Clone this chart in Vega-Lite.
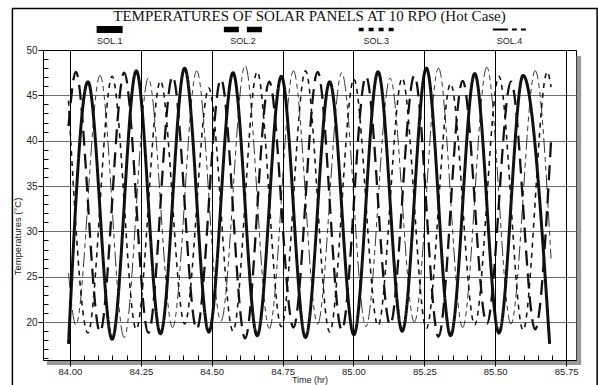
{
  "$schema": "https://vega.github.io/schema/vega-lite/v6.json",
  "width": 533,
  "height": 310,
  "autosize": {"type": "none"},
  "padding": {"left": 43, "top": 50, "right": 22, "bottom": 25},
  "background": "white",
  "title": {
    "text": "TEMPERATURES OF SOLAR PANELS AT 10 RPO (Hot Case)",
    "font": "Liberation Serif",
    "fontSize": 15,
    "fontWeight": "normal",
    "color": "#111111",
    "offset": -16,
    "anchor": "middle",
    "frame": "group"
  },
  "config": {
    "view": {"stroke": "black", "strokeWidth": 1},
    "axis": {"domainColor": "black", "tickColor": "black"}
  },
  "datasets": {
    "legend": [
      {"series": "SOL.1"}, {"series": "SOL.2"}, {"series": "SOL.3"}, {"series": "SOL.4"}
    ],
    "temps": [
      {"series": "SOL.1", "t": 83.995, "v": 17.6},
      {"series": "SOL.1", "t": 84.0635, "v": 46.5},
      {"series": "SOL.1", "t": 84.1488, "v": 18.1},
      {"series": "SOL.1", "t": 84.234, "v": 47.7},
      {"series": "SOL.1", "t": 84.3193, "v": 18.7},
      {"series": "SOL.1", "t": 84.4046, "v": 48.0},
      {"series": "SOL.1", "t": 84.4899, "v": 18.9},
      {"series": "SOL.1", "t": 84.5751, "v": 47.5},
      {"series": "SOL.1", "t": 84.6604, "v": 18.5},
      {"series": "SOL.1", "t": 84.7457, "v": 47.1},
      {"series": "SOL.1", "t": 84.8309, "v": 18.3},
      {"series": "SOL.1", "t": 84.9162, "v": 46.5},
      {"series": "SOL.1", "t": 85.0015, "v": 18.6},
      {"series": "SOL.1", "t": 85.0867, "v": 47.6},
      {"series": "SOL.1", "t": 85.172, "v": 19.0},
      {"series": "SOL.1", "t": 85.2573, "v": 48.0},
      {"series": "SOL.1", "t": 85.3426, "v": 18.5},
      {"series": "SOL.1", "t": 85.4278, "v": 47.4},
      {"series": "SOL.1", "t": 85.5131, "v": 18.8},
      {"series": "SOL.1", "t": 85.5984, "v": 47.2},
      {"series": "SOL.1", "t": 85.692, "v": 17.6},

      {"series": "SOL.2", "t": 83.995, "v": 41.6},
      {"series": "SOL.2", "t": 84.0209, "v": 47.6},
      {"series": "SOL.2", "t": 84.1061, "v": 18.9},
      {"series": "SOL.2", "t": 84.1914, "v": 47.5},
      {"series": "SOL.2", "t": 84.2767, "v": 18.8},
      {"series": "SOL.2", "t": 84.362, "v": 47.1},
      {"series": "SOL.2", "t": 84.4472, "v": 19.2},
      {"series": "SOL.2", "t": 84.5325, "v": 46.8},
      {"series": "SOL.2", "t": 84.6178, "v": 18.2},
      {"series": "SOL.2", "t": 84.703, "v": 46.5},
      {"series": "SOL.2", "t": 84.7883, "v": 19.4},
      {"series": "SOL.2", "t": 84.8736, "v": 47.6},
      {"series": "SOL.2", "t": 84.9588, "v": 19.1},
      {"series": "SOL.2", "t": 85.0441, "v": 47.1},
      {"series": "SOL.2", "t": 85.1294, "v": 19.7},
      {"series": "SOL.2", "t": 85.2147, "v": 47.2},
      {"series": "SOL.2", "t": 85.2999, "v": 18.4},
      {"series": "SOL.2", "t": 85.3852, "v": 46.6},
      {"series": "SOL.2", "t": 85.4705, "v": 19.8},
      {"series": "SOL.2", "t": 85.5557, "v": 46.5},
      {"series": "SOL.2", "t": 85.641, "v": 19.2},
      {"series": "SOL.2", "t": 85.697, "v": 40.0},

      {"series": "SOL.3", "t": 83.995, "v": 44.4},
      {"series": "SOL.3", "t": 84.0635, "v": 18.8},
      {"series": "SOL.3", "t": 84.1488, "v": 47.1},
      {"series": "SOL.3", "t": 84.234, "v": 19.2},
      {"series": "SOL.3", "t": 84.3193, "v": 46.6},
      {"series": "SOL.3", "t": 84.4046, "v": 19.8},
      {"series": "SOL.3", "t": 84.4899, "v": 45.8},
      {"series": "SOL.3", "t": 84.5751, "v": 19.0},
      {"series": "SOL.3", "t": 84.6604, "v": 47.6},
      {"series": "SOL.3", "t": 84.7457, "v": 19.5},
      {"series": "SOL.3", "t": 84.8309, "v": 47.7},
      {"series": "SOL.3", "t": 84.9162, "v": 18.9},
      {"series": "SOL.3", "t": 85.0015, "v": 46.8},
      {"series": "SOL.3", "t": 85.0867, "v": 19.6},
      {"series": "SOL.3", "t": 85.172, "v": 46.9},
      {"series": "SOL.3", "t": 85.2573, "v": 19.3},
      {"series": "SOL.3", "t": 85.3426, "v": 46.3},
      {"series": "SOL.3", "t": 85.4278, "v": 19.7},
      {"series": "SOL.3", "t": 85.5131, "v": 47.1},
      {"series": "SOL.3", "t": 85.5984, "v": 19.1},
      {"series": "SOL.3", "t": 85.6836, "v": 47.6},
      {"series": "SOL.3", "t": 85.697, "v": 45.9},

      {"series": "SOL.4", "t": 83.995, "v": 25.4},
      {"series": "SOL.4", "t": 84.0209, "v": 19.7},
      {"series": "SOL.4", "t": 84.1061, "v": 47.2},
      {"series": "SOL.4", "t": 84.1914, "v": 18.3},
      {"series": "SOL.4", "t": 84.2767, "v": 46.9},
      {"series": "SOL.4", "t": 84.362, "v": 19.4},
      {"series": "SOL.4", "t": 84.4472, "v": 47.7},
      {"series": "SOL.4", "t": 84.5325, "v": 20.1},
      {"series": "SOL.4", "t": 84.6178, "v": 48.3},
      {"series": "SOL.4", "t": 84.703, "v": 19.3},
      {"series": "SOL.4", "t": 84.7883, "v": 47.7},
      {"series": "SOL.4", "t": 84.8736, "v": 19.8},
      {"series": "SOL.4", "t": 84.9588, "v": 47.5},
      {"series": "SOL.4", "t": 85.0441, "v": 19.5},
      {"series": "SOL.4", "t": 85.1294, "v": 46.9},
      {"series": "SOL.4", "t": 85.2147, "v": 20.0},
      {"series": "SOL.4", "t": 85.2999, "v": 48.0},
      {"series": "SOL.4", "t": 85.3852, "v": 19.4},
      {"series": "SOL.4", "t": 85.4705, "v": 48.1},
      {"series": "SOL.4", "t": 85.5557, "v": 19.8},
      {"series": "SOL.4", "t": 85.641, "v": 47.7},
      {"series": "SOL.4", "t": 85.697, "v": 27.0}
    ]
  },
  "resolve": {
    "scale": {"x": "independent", "strokeWidth": "independent"},
    "axis": {"x": "independent"}
  },
  "layer": [
    {
      "layer": [
        {
          "data": {"name": "temps"},
          "mark": {"type": "line", "interpolate": "monotone", "color": "#111111", "strokeCap": "butt"},
          "encoding": {
            "x": {
              "field": "t", "type": "quantitative",
              "scale": {"domain": [83.905, 85.785], "nice": false, "zero": false},
              "title": "Time (hr)",
              "axis": {
                "values": [84.0, 84.05, 84.1, 84.15, 84.2, 84.25, 84.3, 84.35, 84.4, 84.45, 84.5, 84.55, 84.6, 84.65, 84.7, 84.75, 84.8, 84.85, 84.9, 84.95, 85.0, 85.05, 85.1, 85.15, 85.2, 85.25, 85.3, 85.35, 85.4, 85.45, 85.5, 85.55, 85.6, 85.65, 85.7, 85.75],
                "tickCount": 200,
                "labelExpr": "abs(datum.value*4 - round(datum.value*4)) < 0.01 ? format(datum.value, '.2f') : ''",
                "labelOverlap": false,
                "labelFlush": false,
                "labelFont": "Liberation Sans",
                "labelFontSize": 9.5,
                "labelColor": "#222222",
                "labelPadding": 0,
                "grid": true,
                "gridColor": "black",
                "gridWidth": 1,
                "gridOpacity": {"condition": {"test": "abs(datum.value*4 - round(datum.value*4)) < 0.01", "value": 1}, "value": 0},
                "tickSize": {"condition": {"test": "abs(datum.value*4 - round(datum.value*4)) < 0.01", "value": 6}, "value": -5},
                "tickColor": "black",
                "domainColor": "black",
                "titleFont": "Liberation Sans",
                "titleFontSize": 9,
                "titleFontWeight": "normal",
                "titleColor": "#222222",
                "titlePadding": 0,
                "zindex": 1
              }
            },
            "y": {
              "field": "v", "type": "quantitative",
              "scale": {"domain": [15.82, 50], "nice": false, "zero": false},
              "title": "Temperatures (°C)",
              "axis": {
                "values": [16, 17, 18, 19, 20, 21, 22, 23, 24, 25, 26, 27, 28, 29, 30, 31, 32, 33, 34, 35, 36, 37, 38, 39, 40, 41, 42, 43, 44, 45, 46, 47, 48, 49, 50],
                "tickCount": 200,
                "labelExpr": "datum.value % 5 === 0 ? format(datum.value, 'd') : ''",
                "labelOverlap": false,
                "labelFlush": false,
                "labelFont": "Liberation Sans",
                "labelFontSize": 10,
                "labelColor": "#222222",
                "labelPadding": 1,
                "grid": true,
                "gridColor": "#6e6e6e",
                "gridWidth": 1,
                "gridOpacity": {"condition": {"test": "datum.value % 5 === 0 && datum.value < 50", "value": 1}, "value": 0},
                "tickSize": {"condition": {"test": "datum.value % 5 === 0", "value": 5}, "value": -5},
                "tickColor": "black",
                "domainColor": "black",
                "titleFont": "Liberation Sans",
                "titleFontSize": 9.5,
                "titleFontWeight": "normal",
                "titleColor": "#222222",
                "titlePadding": 3,
                "titleY": 186
              }
            },
            "detail": {"field": "series"},
            "strokeDash": {
              "field": "series", "type": "nominal",
              "scale": {"domain": ["SOL.1", "SOL.2", "SOL.3", "SOL.4"], "range": [[1, 0], [15, 8], [5, 5], [15, 4, 5, 4, 5, 4]]},
              "legend": null
            },
            "strokeWidth": {
              "field": "series", "type": "ordinal",
              "scale": {"domain": ["SOL.1", "SOL.2", "SOL.3", "SOL.4"], "range": [3, 0.85, 0.85, 0.85]},
              "legend": null
            }
          }
        },
        {
          "data": {"values": [{}]},
          "mark": {"type": "rect", "filled": false, "stroke": "black", "strokeWidth": 1.5, "clip": false},
          "encoding": {
            "x": {"datum": 83.7971, "scale": {"domain": [83.905, 85.785], "nice": false, "zero": false}, "title": "Time (hr)"},
            "x2": {"datum": 85.8595},
            "y": {"datum": 54.575, "scale": {"domain": [15.82, 50], "nice": false, "zero": false}, "title": "Temperatures (°C)"},
            "y2": {"datum": 12.8}
          }
        },
        {
          "data": {"values": [{}]},
          "mark": {"type": "rect", "color": "#999999", "clip": false},
          "encoding": {
            "x": {"datum": 85.7872, "scale": {"domain": [83.905, 85.785], "nice": false, "zero": false}, "title": "Time (hr)"},
            "x2": {"datum": 85.8031},
            "y": {"datum": 49.34, "scale": {"domain": [15.82, 50], "nice": false, "zero": false}, "title": "Temperatures (°C)"},
            "y2": {"datum": 15.27}
          }
        },
        {
          "data": {"values": [{}]},
          "mark": {"type": "rect", "color": "#999999", "clip": false},
          "encoding": {
            "x": {"datum": 83.9188, "scale": {"domain": [83.905, 85.785], "nice": false, "zero": false}, "title": "Time (hr)"},
            "x2": {"datum": 85.8031},
            "y": {"datum": 15.77, "scale": {"domain": [15.82, 50], "nice": false, "zero": false}, "title": "Temperatures (°C)"},
            "y2": {"datum": 15.27}
          }
        }
      ]
    },
    {
      "data": {"name": "legend"},
      "encoding": {
        "x": {"field": "series", "type": "nominal", "scale": {"type": "band", "paddingInner": 0, "paddingOuter": 0}, "axis": null}
      },
      "layer": [
        {
          "mark": {"type": "point", "filled": false, "stroke": "black", "opacity": 1, "strokeCap": "butt", "size": 4, "clip": false},
          "encoding": {
            "y": {"datum": 52.26, "scale": {"domain": [15.82, 50], "nice": false, "zero": false}, "title": "Temperatures (°C)"},
            "shape": {
              "field": "series", "type": "nominal",
              "scale": {"domain": ["SOL.1", "SOL.2", "SOL.3", "SOL.4"], "range": ["M-13,0L13,0", "M-19,0L19,0", "M-17.5,0L17.5,0", "M-16.5,0L16.5,0"]},
              "legend": null
            },
            "strokeDash": {
              "field": "series", "type": "nominal",
              "scale": {"domain": ["SOL.1", "SOL.2", "SOL.3", "SOL.4"], "range": [[1, 0], [15, 8], [5, 5], [15, 4, 5, 4, 5, 4]]},
              "legend": null
            },
            "strokeWidth": {
              "field": "series", "type": "ordinal",
              "scale": {"domain": ["SOL.1", "SOL.2", "SOL.3", "SOL.4"], "range": [7, 2, 2, 2]},
              "legend": null
            }
          }
        },
        {
          "mark": {"type": "text", "font": "Liberation Sans", "fontSize": 9, "color": "#222222", "baseline": "middle", "clip": false},
          "encoding": {
            "y": {"datum": 50.99, "scale": {"domain": [15.82, 50], "nice": false, "zero": false}, "title": "Temperatures (°C)"},
            "text": {"field": "series"}
          }
        }
      ]
    }
  ]
}
